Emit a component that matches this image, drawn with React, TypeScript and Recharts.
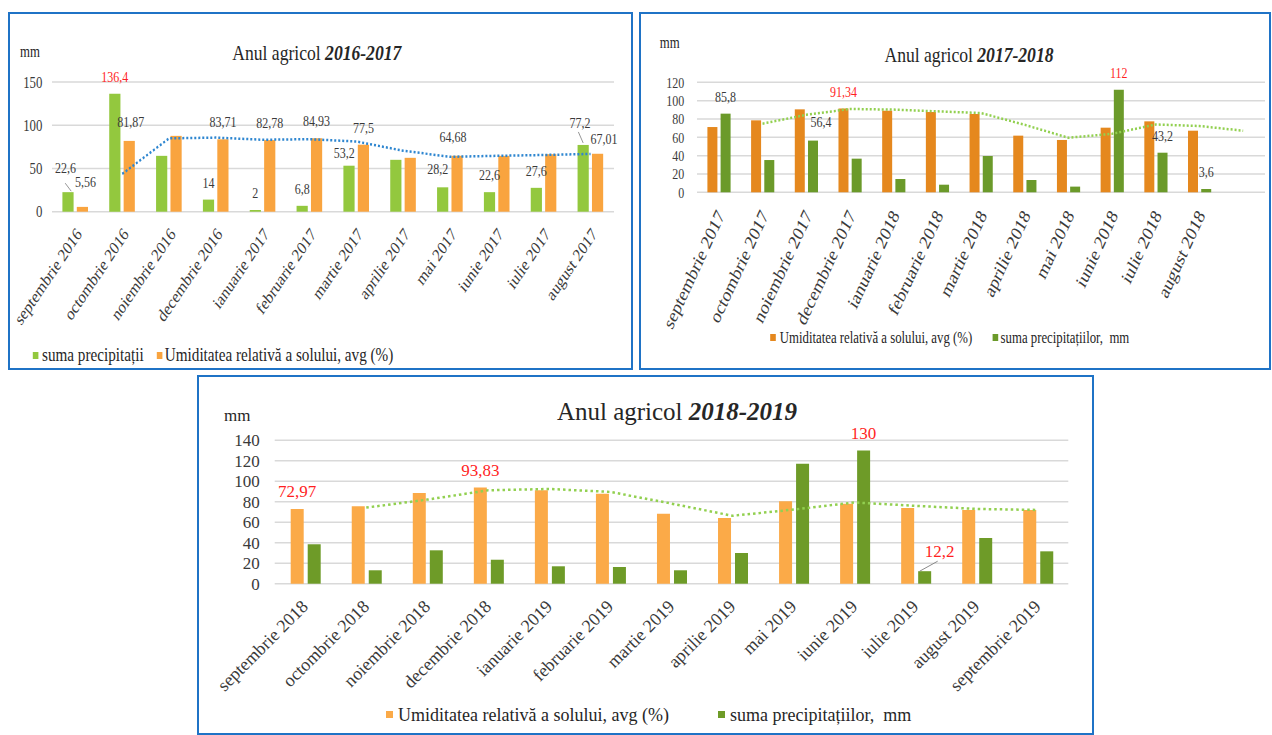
import React from 'react';
import { ComposedChart, Bar, Line, XAxis, YAxis, CartesianGrid, LabelList } from 'recharts';

const SERIF = '"Liberation Serif", "Times New Roman", serif';
const RED = '#FF1F1F';
const TXT = '#3a3a3a';
const GRID = '#D9D9D9';
const BORDER = '#1F73C6';

// ---------- Chart 1: Anul agricol 2016-2017 ----------
const months1 = ['septembrie 2016', 'octombrie 2016', 'noiembrie 2016', 'decembrie 2016', 'ianuarie 2017', 'februarie 2017', 'martie 2017', 'aprilie 2017', 'mai 2017', 'iunie 2017', 'iulie 2017', 'august 2017'];
const precip1 = [22.6, 136.4, 64.6, 14, 2, 6.8, 53.2, 60, 28.2, 22.6, 27.6, 77.2];
const humid1 = [5.56, 81.87, 87.7, 83.71, 82.78, 84.93, 77.5, 62.3, 64.68, 64.6, 66.5, 67.01];
const trend1 = [null, 43.7, 84.8, 85.7, 83.2, 83.9, 81.2, 70.5, 63.5, 64.6, 65.6, 66.8];
const precipText1 = ['22,6', '136,4', '', '14', '2', '6,8', '53,2', '', '28,2', '22,6', '27,6', '77,2'];
const humidText1 = ['5,56', '81,87', '', '83,71', '82,78', '84,93', '77,5', '', '64,68', '', '', '67,01'];
const yTicks1 = [0, 50, 100, 150];

// ---------- Chart 2: Anul agricol 2017-2018 ----------
const months2 = ['septembrie 2017', 'octombrie 2017', 'noiembrie 2017', 'decembrie 2017', 'ianuarie 2018', 'februarie 2018', 'martie 2018', 'aprilie 2018', 'mai 2018', 'iunie 2018', 'iulie 2018', 'august 2018', ''];
const humid2 = [71.2, 78.5, 90.5, 91.34, 89.0, 87.6, 85.4, 61.8, 57.1, 70.5, 77.4, 67.2, null];
const precip2 = [85.8, 35.2, 56.4, 36.7, 14.5, 8.3, 39.6, 13.4, 6.2, 112, 43.2, 3.6, null];
const trend2 = [null, 74.9, 84.5, 90.9, 90.2, 88.3, 86.5, 73.6, 59.5, 63.8, 74.0, 72.3, 67.2];
const humidText2 = ['', '', '', '91,34', '', '', '', '', '', '', '', '', ''];
const precipText2 = ['85,8', '', '56,4', '', '', '', '', '', '', '112', '43,2', '3,6', ''];
const yTicks2 = [0, 20, 40, 60, 80, 100, 120];

// ---------- Chart 3: Anul agricol 2018-2019 ----------
const months3 = ['septembrie 2018', 'octombrie 2018', 'noiembrie 2018', 'decembrie 2018', 'ianuarie 2019', 'februarie 2019', 'martie 2019', 'aprilie 2019', 'mai 2019', 'iunie 2019', 'iulie 2019', 'august 2019', 'septembrie 2019'];
const humid3 = [72.97, 75.6, 88.6, 93.83, 91.2, 87.9, 68.4, 64.2, 80.5, 78.1, 73.9, 72.0, 72.0];
const precip3 = [38.5, 13.1, 32.6, 23.4, 17.0, 16.3, 13.1, 30.0, 117.2, 130, 12.2, 44.6, 31.6];
const trend3 = [null, 74.3, 82.1, 91.2, 92.5, 89.6, 78.2, 66.3, 72.4, 79.3, 76.0, 73.0, 72.0];
const humidText3 = ['72,97', '', '', '93,83', '', '', '', '', '', '', '', '', ''];
const precipText3 = ['', '', '', '', '', '', '', '', '', '130', '12,2', '', ''];
const yTicks3 = [0, 20, 40, 60, 80, 100, 120, 140];

const build = (months: string[], precip: (number | null)[], humid: (number | null)[], trend: (number | null)[]) =>
  months.map((m, i) => ({ month: m, precip: precip[i], humid: humid[i], trend: trend[i] }));

const data1 = build(months1, precip1, humid1, trend1);
const data2 = build(months2, precip2, humid2, trend2);
const data3 = build(months3, precip3, humid3, trend3);

type Nudge = { dx?: number; dy?: number; leader?: [number, number, number, number] };
type LabelCfg = { texts: string[]; red: number[]; fontSize: number; gap: number; nudge?: Record<number, Nudge> };

const makeLabel = (cfg: LabelCfg) => (props: any) => {
  const vb = props.viewBox || props;
  const x = vb.x ?? props.x;
  const y = vb.y ?? props.y;
  const width = vb.width ?? props.width;
  const index = props.index;
  const t = cfg.texts[index];
  if (!t || x == null) return null;
  const n = (cfg.nudge && cfg.nudge[index]) || {};
  const cx = x + width / 2;
  return (
    <g>
      {n.leader && (
        <line x1={cx + n.leader[0]} y1={y + n.leader[1]} x2={cx + n.leader[2]} y2={y + n.leader[3]} stroke="#8a8a8a" strokeWidth={1} />
      )}
      <text x={cx + (n.dx || 0)} y={y - cfg.gap + (n.dy || 0)} textAnchor="middle" fontSize={cfg.fontSize} fontFamily={SERIF} fill={cfg.red.includes(index) ? RED : TXT}>
        {t}
      </text>
    </g>
  );
};

const makeTick = (fontSize: number, dx: number, dy: number, angle: number) => (props: any) => {
  const { x, y, payload } = props;
  return (
    <g transform={`translate(${x + dx},${y + dy})`}>
      <text textAnchor="end" transform={`rotate(${angle})`} fontSize={fontSize} fontFamily={SERIF} fill={TXT}>
        {payload.value}
      </text>
    </g>
  );
};

function Box({ left, top, width, height }: { left: number; top: number; width: number; height: number }) {
  return <div style={{ position: 'absolute', left, top, width, height, border: `2px solid ${BORDER}`, boxSizing: 'border-box' }} />;
}

function Panel({ left, top, width, height, sx, children }: any) {
  return (
    <div style={{ position: 'absolute', left, top, width: width / sx, height, transform: `scaleX(${sx})`, transformOrigin: '0 0' }}>
      {children}
    </div>
  );
}

type LegendItem = { color: string; label: string; sq: number; tx: number };
function Overlay({ w, h, title, year, tx, ty, tsize, mmx, mmy, mmsize, legend, ly, lsize, sqY, sqSize }: any) {
  return (
    <svg width={w} height={h} style={{ position: 'absolute', left: 0, top: 0, pointerEvents: 'none' }}>
      <text x={tx} y={ty} textAnchor="middle" fontSize={tsize} fontFamily={SERIF} fill="#262626">
        {title}
        <tspan fontWeight="bold" fontStyle="italic">{year}</tspan>
      </text>
      <text x={mmx} y={mmy} fontSize={mmsize} fontFamily={SERIF} fill="#262626">mm</text>
      {(legend as LegendItem[]).map((it) => (
        <g key={it.label}>
          <rect x={it.sq} y={sqY} width={sqSize} height={sqSize} fill={it.color} />
          <text x={it.tx} y={ly} fontSize={lsize} fontFamily={SERIF} fill="#262626">{it.label}</text>
        </g>
      ))}
    </svg>
  );
}

// Chart 1 colors
const G1 = '#93C83E';
const O1 = '#F9A43F';
// Chart 2 colors
const O2 = '#E5881E';
const G2 = '#6B9A2A';
// Chart 3 colors
const O3 = '#FBAA48';
const G3 = '#6E9B28';

const LEG_H = 'Umiditatea relativă a solului, avg (%)';
const LEG_P1 = 'suma precipitații';
const LEG_P2 = 'suma precipitațiilor,\u00A0 mm';

export default function App() {
  const S = 0.8;
  const c1 = { left: 8, top: 12, width: 625, height: 358 };
  const c1w = c1.width / S;
  const c2 = { left: 639, top: 12, width: 632, height: 358 };
  const c2w = c2.width / S;
  const c3 = { left: 197, top: 375, width: 897, height: 360 };

  return (
    <div style={{ position: 'absolute', left: 0, top: 0, width: 1272, height: 735, background: '#fff', overflow: 'hidden', fontFamily: SERIF }}>
      {/* Chart 1 */}
      <Panel {...c1} sx={S}>
        <ComposedChart width={c1w} height={c1.height} data={data1} margin={{ top: 70, right: 23.75, bottom: 0, left: 0 }}>
          <CartesianGrid vertical={false} stroke={GRID} strokeWidth={1.5} />
          <XAxis dataKey="month" height={158.3} axisLine={false} tickLine={false} interval={0} tick={makeTick(18, 9, 15, -50)} />
          <YAxis domain={[0, 150]} ticks={yTicks1} interval={0} width={55} axisLine={false} tickLine={false} tickMargin={6} tick={{ fontSize: 16, fill: TXT, fontFamily: SERIF }} />
          <Bar dataKey="precip" fill={G1} barSize={14} isAnimationActive={false}>
            <LabelList dataKey="precip" content={makeLabel({ texts: precipText1, red: [1], fontSize: 15, gap: 12, nudge: { 0: { dx: -3, dy: -7, leader: [-3.5, -9, 4, -1] }, 6: { dx: -6, dy: 4 }, 8: { dx: -6, dy: -1 }, 11: { dx: -4, dy: -5, leader: [-6, -13, 0, -2] } } })} />
          </Bar>
          <Bar dataKey="humid" fill={O1} barSize={14} isAnimationActive={false}>
            <LabelList dataKey="humid" content={makeLabel({ texts: humidText1, red: [], fontSize: 15, gap: 12, nudge: { 0: { dx: 4, dy: -8 }, 1: { dx: 2, dy: -2 }, 8: { dx: -5, dy: -2 }, 11: { dx: 8, dy: 2 } } })} />
          </Bar>
          <Line dataKey="trend" stroke="#2E86D0" strokeWidth={2.5} strokeDasharray="2.5 2.5" dot={false} legendType="none" isAnimationActive={false} type="linear" />
        </ComposedChart>
        <Overlay w={c1w} h={c1.height} title="Anul agricol " year="2016-2017" tx={386} ty={48} tsize={22} mmx={15} mmy={45} mmsize={16}
          legend={[{ color: G1, label: LEG_P1, sq: 31, tx: 42.5 }, { color: O1, label: LEG_H, sq: 186, tx: 196 }]} ly={349.5} lsize={19} sqY={340} sqSize={7} />
      </Panel>
      <Box {...c1} />

      {/* Chart 2 */}
      <Panel {...c2} sx={S}>
        <ComposedChart width={c2w} height={c2.height} data={data2} margin={{ top: 70.3, right: 7.5, bottom: 0, left: 0 }}>
          <CartesianGrid vertical={false} stroke={GRID} strokeWidth={1.5} />
          <XAxis dataKey="month" height={177.7} axisLine={false} tickLine={false} interval={0} tick={makeTick(20, 8, 15, -60)} />
          <YAxis domain={[0, 120]} ticks={yTicks2} interval={0} width={72.5} axisLine={false} tickLine={false} tickMargin={10} tick={{ fontSize: 15, fill: TXT, fontFamily: SERIF }} />
          <Bar dataKey="humid" fill={O2} barSize={12.5} isAnimationActive={false}>
            <LabelList dataKey="humid" content={makeLabel({ texts: humidText2, red: [3], fontSize: 15, gap: 12 })} />
          </Bar>
          <Bar dataKey="precip" fill={G2} barSize={12.5} isAnimationActive={false}>
            <LabelList dataKey="precip" content={makeLabel({ texts: precipText2, red: [9], fontSize: 15, gap: 12, nudge: { 2: { dx: 10, dy: -2 } } })} />
          </Bar>
          <Line dataKey="trend" stroke="#92D050" strokeWidth={2.5} strokeDasharray="2.5 2.5" dot={false} legendType="none" isAnimationActive={false} type="linear" />
        </ComposedChart>
        <Overlay w={c2w} h={c2.height} title="Anul agricol " year="2017-2018" tx={412.5} ty={49.7} tsize={22} mmx={26} mmy={36} mmsize={16}
          legend={[{ color: O2, label: LEG_H, sq: 164, tx: 176 }, { color: G2, label: LEG_P2, sq: 442, tx: 452 }]} ly={331} lsize={16} sqY={322} sqSize={7} />
      </Panel>
      <Box {...c2} />

      {/* Chart 3 */}
      <Panel {...c3} sx={1}>
        <ComposedChart width={c3.width} height={c3.height} data={data3} margin={{ top: 65.3, right: 25.7, bottom: 0, left: 0 }}>
          <CartesianGrid vertical={false} stroke={GRID} strokeWidth={1.5} />
          <XAxis dataKey="month" height={151.3} axisLine={false} tickLine={false} interval={0} tick={makeTick(18, 4, 16, -45)} />
          <YAxis domain={[0, 140]} ticks={yTicks3} interval={0} width={77.7} axisLine={false} tickLine={false} tickMargin={9} tick={{ fontSize: 17, fill: TXT, fontFamily: SERIF }} />
          <Bar dataKey="humid" fill={O3} barSize={13} isAnimationActive={false}>
            <LabelList dataKey="humid" content={makeLabel({ texts: humidText3, red: [0, 3], fontSize: 17, gap: 12 })} />
          </Bar>
          <Bar dataKey="precip" fill={G3} barSize={13} isAnimationActive={false}>
            <LabelList dataKey="precip" content={makeLabel({ texts: precipText3, red: [9, 10], fontSize: 17, gap: 12, nudge: { 10: { dx: 15, dy: -2, leader: [-5, 0, 13, -10] } } })} />
          </Bar>
          <Line dataKey="trend" stroke="#92D050" strokeWidth={2.5} strokeDasharray="2.5 3" dot={false} legendType="none" isAnimationActive={false} type="linear" />
        </ComposedChart>
        <Overlay w={c3.width} h={c3.height} title="Anul agricol " year="2018-2019" tx={480} ty={44.7} tsize={25} mmx={27} mmy={46} mmsize={17}
          legend={[{ color: O3, label: LEG_H, sq: 189, tx: 201 }, { color: G3, label: LEG_P2, sq: 521, tx: 533 }]} ly={346} lsize={18} sqY={336} sqSize={7} />
      </Panel>
      <Box {...c3} />
    </div>
  );
}
